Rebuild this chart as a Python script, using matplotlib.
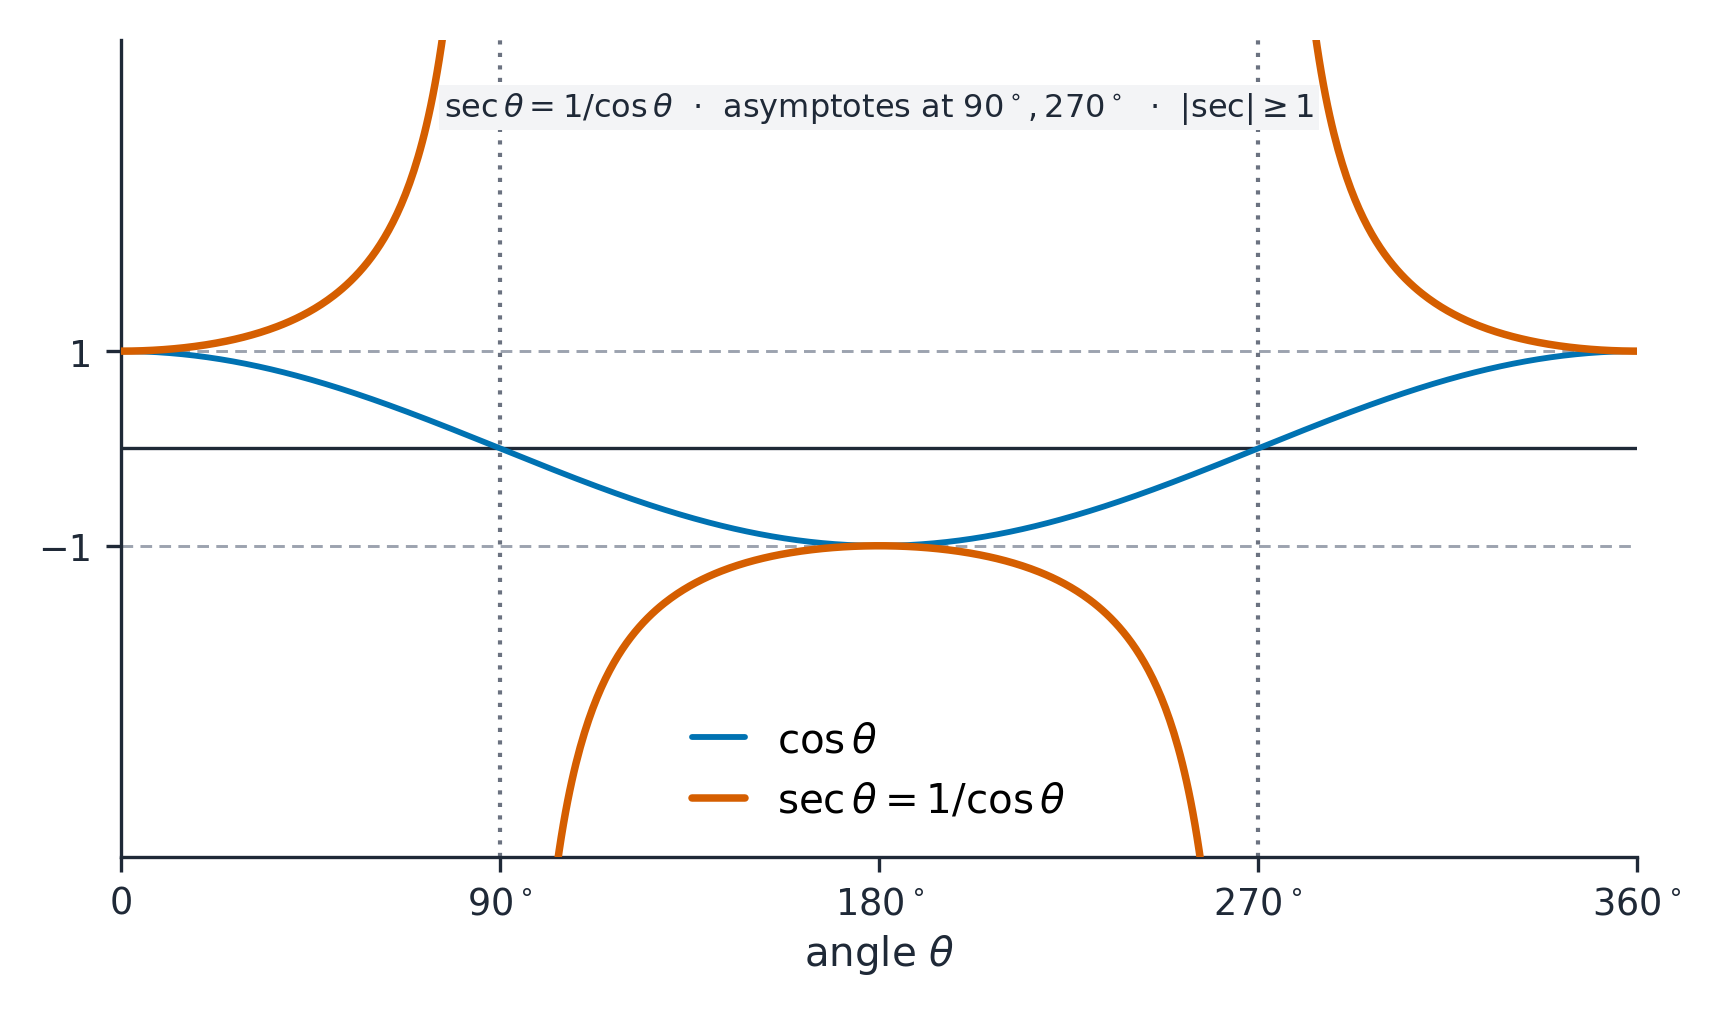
import numpy as np
import matplotlib
matplotlib.use("Agg")
import matplotlib.pyplot as plt

# ---- data ----
angle_deg = np.linspace(0, 360, 721)          # angle grid (degrees)
cos_vals = np.cos(np.deg2rad(angle_deg))       # cos θ
asymptotes = [90, 270]
ref_levels = [1, -1]
xtick_vals = [0, 90, 180, 270, 360]
xtick_labels = ["0", r"$90^\circ$", r"$180^\circ$", r"$270^\circ$", r"$360^\circ$"]
ytick_vals = [-1, 1]

# secant with breaks at the asymptotes
with np.errstate(divide="ignore"):
    sec_vals = 1.0 / cos_vals
sec_vals = np.where(np.abs(cos_vals) < 0.02, np.nan, sec_vals)

BLUE = "#0072B2"
ORANGE = "#D55E00"
DARK = "#1f2937"

fig = plt.figure(figsize=(5.75, 3.4033), dpi=300)
ax = fig.add_axes([0.0703, 0.1595, 0.8787, 0.8006])

for lv in ref_levels:
    ax.axhline(lv, color="#9ca3af", lw=0.7, ls=(0, (4, 2.5)), zorder=1)
ax.axhline(0, color=DARK, lw=0.8, zorder=1)
for a in asymptotes:
    ax.axvline(a, color="#6b7280", lw=1.0, ls=(0, (1, 2)), zorder=1)

ax.plot(angle_deg, cos_vals, color=BLUE, lw=1.4, label=r"$\cos\theta$", zorder=3,
        solid_capstyle="round")
ax.plot(angle_deg, sec_vals, color=ORANGE, lw=1.8, label=r"$\sec\theta = 1/\cos\theta$", zorder=3,
        solid_capstyle="round")

ax.set_xlim(0, 360)
ax.set_ylim(-4.2, 4.2)
ax.set_xticks(xtick_vals)
ax.set_xticklabels(xtick_labels)
ax.set_yticks(ytick_vals)

for s in ["top", "right"]:
    ax.spines[s].set_visible(False)
for s in ["left", "bottom"]:
    ax.spines[s].set_color(DARK)
    ax.spines[s].set_linewidth(0.8)
ax.tick_params(colors=DARK, labelsize=8.8, width=0.8, length=3.5)
ax.tick_params(axis="x", pad=3)
ax.set_xlabel(r"angle $\theta$", fontsize=9.7, color=DARK, labelpad=2.5)

ax.text(0.5, 0.917,
        r"$\sec\theta = 1/\cos\theta$  $\cdot$  asymptotes at $90^\circ, 270^\circ$  $\cdot$  $|\sec| \geq 1$",
        transform=ax.transAxes, ha="center", va="center", fontsize=7.7, color=DARK,
        bbox=dict(boxstyle="square,pad=0.15", facecolor="#f3f4f6", edgecolor="none"), zorder=4)

leg = ax.legend(loc="lower center", frameon=False, fontsize=9.7, handlelength=1.3)

fig.savefig("out.png", dpi=300)
